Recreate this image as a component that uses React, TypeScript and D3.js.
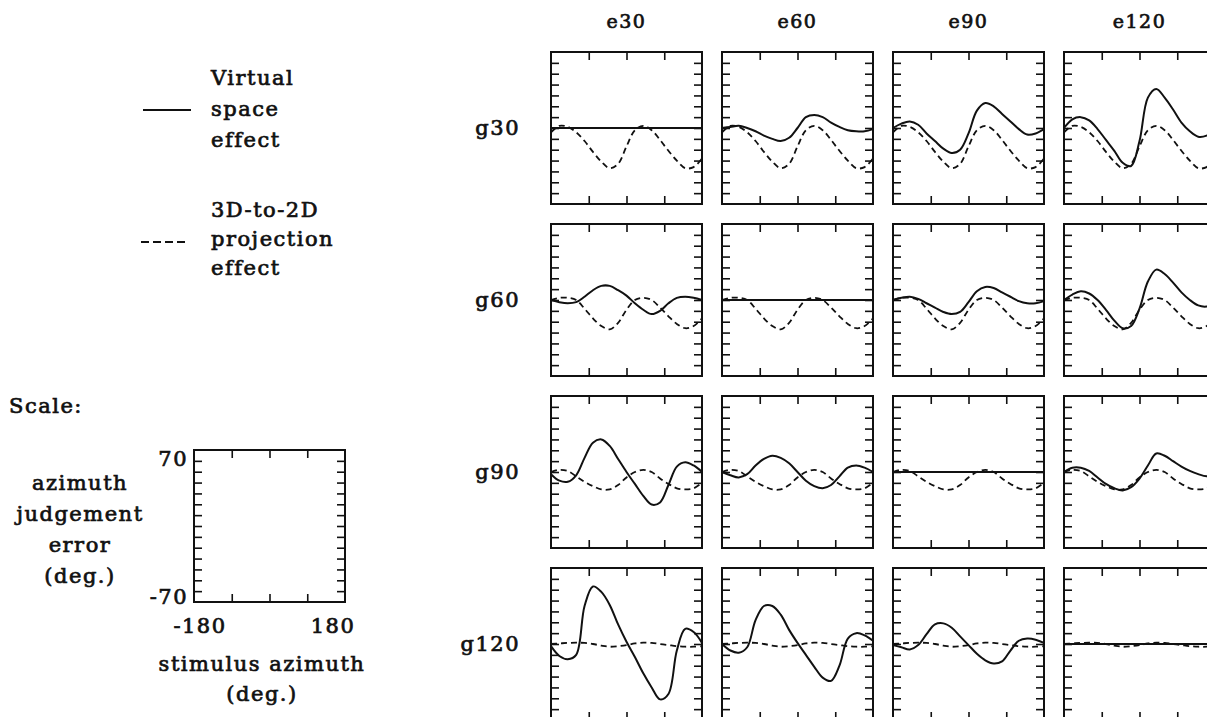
import React, { useEffect, useRef } from "react";
import * as d3 from "d3";

// stimulus azimuth samples (deg.)
const AZIMUTH = [-180, -160, -140, -120, -100, -80, -60, -40, -20, 0, 20, 40, 60, 80, 100, 120, 140, 160, 180];

const ROW_LABELS = ["g30", "g60", "g90", "g120"];
const COL_LABELS = ["e30", "e60", "e90", "e120"];
const X_TICKS = [-90, 0, 90];
const Y_TICKS = [-60, -50, -40, -30, -20, -10, 0, 10, 20, 30, 40, 50, 60];

// 3D-to-2D projection effect, one per row (same in every column)
const PROJ_G30 = [-4, 2, 1, -4, -12, -22, -31, -37, -33, -17, -2, 2, -2, -11, -21, -30, -37, -36, -28];
const PROJ_G60 = [0, 2, 2, 0, -8, -17, -24, -27, -21, -9, 0, 2, 0, -7, -15, -22, -26, -24, -17];
const PROJ_G90 = [0, 2, 1, -4, -9, -13, -16, -16, -12, -5, 0, 2, 0, -6, -11, -15, -16, -15, -10];
const PROJ_G120 = [0, 0.5, 1, 1.2, 1, 0, -1.5, -2.5, -2, -1, 0.5, 1.2, 1, 0, -1, -2, -2.5, -2.5, -2];

// virtual space effect, one per panel
const VIRT_G30_E30 = [0, 0, 0, 0, 0, 0, 0, 0, 0, 0, 0, 0, 0, 0, 0, 0, 0, 0, 0];
const VIRT_G30_E60 = [0, 1, 2, 0, -3, -7, -10, -12, -9, 0, 10, 12, 10, 5, 1, -2, -3, -3, -1];
const VIRT_G30_E90 = [0, 4, 6, 3, -5, -12, -19, -23, -20, -5, 16, 23, 20, 13, 6, -1, -6, -5, -1];
const VIRT_G30_E120 = [0, 8, 10, 7, -1, -11, -21, -32, -35, -12, 28, 36, 28, 17, 5, -3, -8, -7, -2];

const VIRT_G60_E30 = [0, -2, -3, -2, 3, 9, 13, 13, 9, 4, -3, -9, -13, -10, -3, 2, 3, 2, 0];
const VIRT_G60_E60 = [0, 0, 0, 0, 0, 0, 0, 0, 0, 0, 0, 0, 0, 0, 0, 0, 0, 0, 0];
const VIRT_G60_E90 = [0, 2, 3, 1, -3, -7, -11, -13, -11, -2, 8, 12, 11, 7, 3, -1, -3, -3, -1];
const VIRT_G60_E120 = [0, 5, 8, 6, 0, -9, -19, -26, -24, -8, 17, 28, 24, 16, 7, 0, -5, -6, -3];

const VIRT_G90_E30 = [-2, -8, -9, -3, 13, 27, 30, 24, 12, 0, -11, -22, -30, -28, -12, 5, 9, 6, 0];
const VIRT_G90_E60 = [0, -3, -5, -2, 6, 12, 15, 13, 8, 0, -8, -13, -15, -12, -4, 4, 6, 4, 0];
const VIRT_G90_E90 = [0, 0, 0, 0, 0, 0, 0, 0, 0, 0, 0, 0, 0, 0, 0, 0, 0, 0, 0];
const VIRT_G90_E120 = [0, 4, 4, 1, -5, -11, -15, -17, -14, -6, 6, 17, 15, 10, 5, 1, -2, -4, -3];

const VIRT_G120_E30 = [-2, -11, -14, -10, 35, 53, 48, 36, 18, 2, -12, -27, -40, -51, -46, -6, 14, 11, 1];
const VIRT_G120_E60 = [0, -6, -8, -3, 22, 35, 35, 27, 13, 1, -10, -21, -31, -34, -20, 5, 10, 8, 3];
const VIRT_G120_E90 = [-1, -3, -5, -1, 9, 18, 19, 15, 7, -1, -9, -15, -18, -16, -6, 3, 5, 4, 1];
const VIRT_G120_E120 = [0, 0, 0, 0, 0, 0, 0, 0, 0, 0, 0, 0, 0, 0, 0, 0, 0, 0, 0];

const PROJECTION = [PROJ_G30, PROJ_G60, PROJ_G90, PROJ_G120];
const VIRTUAL = [
  [VIRT_G30_E30, VIRT_G30_E60, VIRT_G30_E90, VIRT_G30_E120],
  [VIRT_G60_E30, VIRT_G60_E60, VIRT_G60_E90, VIRT_G60_E120],
  [VIRT_G90_E30, VIRT_G90_E60, VIRT_G90_E90, VIRT_G90_E120],
  [VIRT_G120_E30, VIRT_G120_E60, VIRT_G120_E90, VIRT_G120_E120],
];

const INK = "#111";
const FONT = "'DejaVu Serif', serif";

export default function App() {
  const ref = useRef<SVGSVGElement>(null);

  useEffect(() => {
    const svg = d3.select(ref.current);
    svg.selectAll("*").remove();

    const W = 151, H = 152;
    const x = d3.scaleLinear().domain([-180, 180]).range([0, W]);
    const y = d3.scaleLinear().domain([-70, 70]).range([H, 0]);
    const line = d3.line<number>()
      .x((d, i) => x(AZIMUTH[i]))
      .y(d => y(d))
      .curve(d3.curveCatmullRom.alpha(0.5));

    const text = (g: any, s: string, tx: number, ty: number, anchor = "start", size = 21) =>
      g.append("text")
        .attr("x", tx).attr("y", ty)
        .attr("text-anchor", anchor)
        .attr("font-family", FONT)
        .attr("font-size", size)
        .attr("letter-spacing", 1.5)
        .attr("fill", INK)
        .attr("stroke", INK)
        .attr("stroke-width", 0.7)
        .text(s);

    // box with inward ticks on all four sides
    const frame = (g: any) => {
      g.append("rect").attr("width", W).attr("height", H)
        .attr("fill", "none").attr("stroke", INK).attr("stroke-width", 2);
      const axes: [any, number, number][] = [
        [d3.axisTop(x).tickValues(X_TICKS), 0, 0],
        [d3.axisBottom(x).tickValues(X_TICKS), 0, H],
        [d3.axisLeft(y).tickValues(Y_TICKS), 0, 0],
        [d3.axisRight(y).tickValues(Y_TICKS), W, 0],
      ];
      axes.forEach(([a, tx, ty]) => {
        const s = g.append("g")
          .attr("transform", `translate(${tx},${ty})`)
          .call(a.tickSize(-8).tickFormat(() => ""));
        s.select(".domain").remove();
        s.selectAll("line").attr("stroke", INK).attr("stroke-width", 1.6);
      });
    };

    // grid of panels
    ROW_LABELS.forEach((rl, r) => {
      const top = 52 + r * 172;
      text(svg, rl, 520, top + y(0) + 7, "end");
      COL_LABELS.forEach((cl, c) => {
        const left = 551 + c * 171;
        const g = svg.append("g").attr("transform", `translate(${left},${top})`);
        frame(g);
        g.append("path").datum(PROJECTION[r])
          .attr("d", line).attr("fill", "none")
          .attr("stroke", INK).attr("stroke-width", 1.8)
          .attr("stroke-dasharray", "6,4");
        g.append("path").datum(VIRTUAL[r][c])
          .attr("d", line).attr("fill", "none")
          .attr("stroke", INK).attr("stroke-width", 2);
      });
    });
    COL_LABELS.forEach((cl, c) => text(svg, cl, 551 + c * 171 + W / 2, 28, "middle", 19));

    // legend
    svg.append("line").attr("x1", 143).attr("x2", 191).attr("y1", 110).attr("y2", 110)
      .attr("stroke", INK).attr("stroke-width", 2);
    ["Virtual", "space", "effect"].forEach((s, i) => text(svg, s, 211, 85 + i * 31));
    svg.append("line").attr("x1", 141).attr("x2", 189).attr("y1", 242).attr("y2", 242)
      .attr("stroke", INK).attr("stroke-width", 2).attr("stroke-dasharray", "8,4");
    ["3D-to-2D", "projection", "effect"].forEach((s, i) => text(svg, s, 211, 217 + i * 29));

    // scale key
    text(svg, "Scale:", 9, 413);
    const key = svg.append("g").attr("transform", "translate(194,450)");
    frame(key);
    text(svg, "70", 188, 466, "end");
    text(svg, "-70", 188, 604, "end");
    text(svg, "-180", 200, 633, "middle");
    text(svg, "180", 333, 633, "middle");
    text(svg, "stimulus azimuth", 262, 671, "middle");
    text(svg, "(deg.)", 262, 701, "middle");
    ["azimuth", "judgement", "error", "(deg.)"].forEach((s, i) => text(svg, s, 80, 490 + i * 31, "middle"));
  }, []);

  return (
    <svg ref={ref} width={1207} height={717}
      style={{ position: "absolute", left: 0, top: 0, background: "#fff" }} />
  );
}
